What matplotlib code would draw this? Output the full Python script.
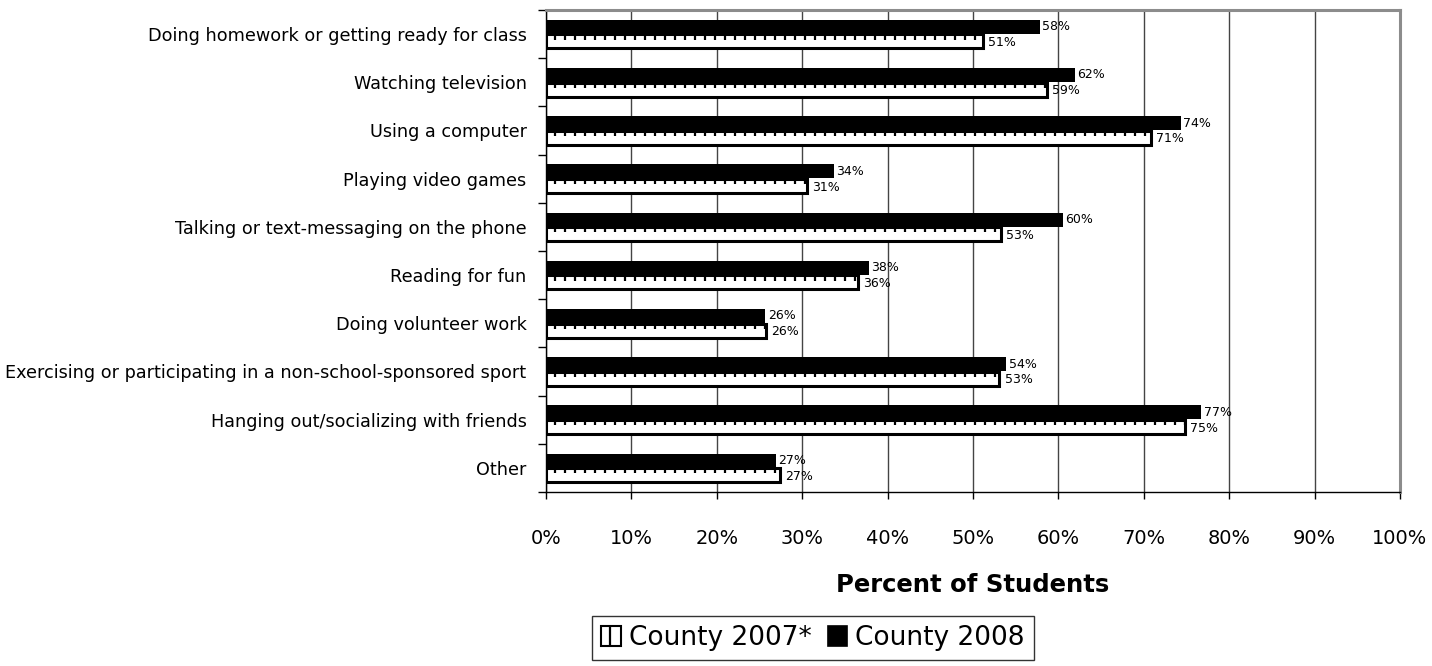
import matplotlib
matplotlib.use("Agg")
import matplotlib.pyplot as plt
import numpy as np
from matplotlib.patches import Patch

categories = [
    "Doing homework or getting ready for class",
    "Watching television",
    "Using a computer",
    "Playing video games",
    "Talking or text-messaging on the phone",
    "Reading for fun",
    "Doing volunteer work",
    "Exercising or participating in a non-school-sponsored sport",
    "Hanging out/socializing with friends",
    "Other",
]
county_2008 = [57.8, 61.9, 74.3, 33.7, 60.5, 37.8, 25.7, 53.9, 76.7, 26.9]
county_2007 = [51.2, 58.7, 70.8, 30.6, 53.3, 36.5, 25.8, 53.1, 74.8, 27.4]
xticks = [0, 10, 20, 30, 40, 50, 60, 70, 80, 90, 100]
xtick_labels = [f"{v}%" for v in xticks]

DPI = 120
S = 100 / DPI  # sizes below are given as if at 100 dpi


def pt(v):
    return v * S


plt.rcParams['hatch.linewidth'] = pt(1.6)
FONT = "DejaVu Sans"

fig = plt.figure(figsize=(1432 / DPI, 666 / DPI), dpi=DPI)
ax = fig.add_axes([546/1432, 1-492/666, (1400-546)/1432, (492-10)/666])

y = np.arange(len(categories))
h = 0.29

ax.barh(y - h/2 - 0.005, county_2008, height=h, color="black", edgecolor="black", linewidth=0, zorder=3)
ax.barh(y + h/2 + 0.005, county_2007, height=h, color="white", edgecolor="black", linewidth=pt(2.2), zorder=3)
comb_h = 0.11
ax.barh(y + 0.005 + comb_h/2, county_2007, height=comb_h, color="none", edgecolor="black",
        linewidth=0, hatch="||", zorder=4)

for i in range(len(categories)):
    ax.text(county_2008[i] + 0.3, y[i] - h/2 - 0.01, f"{county_2008[i]:.0f}%", va="center", ha="left",
            fontsize=pt(9), family=FONT, zorder=5)
    ax.text(county_2007[i] + 0.6, y[i] + h/2 + 0.03, f"{county_2007[i]:.0f}%", va="center", ha="left",
            fontsize=pt(9), family=FONT, zorder=5)

ax.set_xlim(0, 100)
ax.set_ylim(len(categories) - 0.5, -0.5)
ax.set_xticks(xticks)
ax.set_xticklabels(xtick_labels, family=FONT, fontsize=pt(14))
ax.tick_params(axis='x', direction='out', length=pt(5), width=pt(1), pad=pt(22))
ax.set_yticks(y)
ax.set_yticklabels(categories, family=FONT, fontsize=pt(12.7))
ax.tick_params(axis='y', which='major', length=0, pad=pt(14))
ax.set_yticks(np.arange(-0.5, len(categories) + 0.5, 1), minor=True)
ax.tick_params(axis='y', which='minor', direction='out', length=pt(6), width=pt(1))

ax.grid(axis='x', color="#444444", linewidth=pt(1.0), zorder=0)
ax.set_axisbelow(True)
for s in ["top", "right"]:
    ax.spines[s].set_color("#8c8c8c")
    ax.spines[s].set_linewidth(pt(2.2))
for s in ["left", "bottom"]:
    ax.spines[s].set_color("black")
    ax.spines[s].set_linewidth(pt(1.0))

ax.set_xlabel("Percent of Students", family=FONT, fontweight="bold", fontsize=pt(17.5), labelpad=pt(18))

handles = [
    Patch(facecolor="white", edgecolor="black", hatch="|", linewidth=pt(1.5), label="County 2007*"),
    Patch(facecolor="black", edgecolor="black", label="County 2008"),
]
leg = fig.legend(handles=handles, loc="upper left", bbox_to_anchor=(592/1432, 1-616/666),
                 ncol=2, prop={"family": FONT, "size": pt(19)}, frameon=True, fancybox=False,
                 handlelength=0.75, handleheight=0.75, handletextpad=0.3, columnspacing=0.6,
                 borderpad=0.35, borderaxespad=0)
leg.get_frame().set_edgecolor("black")
leg.get_frame().set_linewidth(pt(1.0))

fig.savefig("out.png", dpi=DPI)
